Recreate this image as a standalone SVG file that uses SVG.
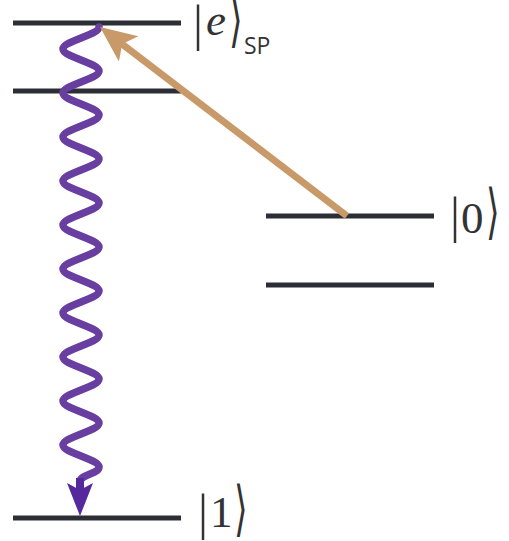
<svg xmlns="http://www.w3.org/2000/svg" width="509" height="541" viewBox="0 0 509 541">
<style>
.lvl{stroke:#2b2e34;stroke-width:5;fill:none}
.ch{font-family:"Liberation Serif","DejaVu Serif",serif;font-size:45px;fill:#333}
.bar{font-family:"Liberation Serif",serif;font-size:50px;fill:#333;text-anchor:middle}
.ang{font-family:"DejaVu Sans",sans-serif;font-weight:200;font-size:50px;fill:#333;text-anchor:middle}
.sub{font-family:"Open Sans","DejaVu Sans",sans-serif;font-size:23px;fill:#333}
</style>
<rect width="509" height="541" fill="#fff"/>
<g id="level-e1"><line class="lvl" x1="13" y1="23" x2="181" y2="23"/></g>
<g id="level-e2"><line class="lvl" x1="13" y1="91" x2="181" y2="91"/></g>
<g id="level-0a"><line class="lvl" x1="266" y1="216" x2="434" y2="216"/></g>
<g id="level-0b"><line class="lvl" x1="266" y1="285" x2="434" y2="285"/></g>
<g id="level-1"><line class="lvl" x1="13" y1="518" x2="181" y2="518"/></g>
<g id="connectors">
<path d="M 99 27 C 99 35, 63 41, 63 49 S 99 63, 99 71 S 63 85, 63 93 S 99 107, 99 115 S 63 129, 63 137 S 99 151, 99 159 S 63 173, 63 181 S 99 195, 99 203 S 63 217, 63 225 S 99 239, 99 247 S 63 261, 63 269 S 99 283, 99 291 S 63 305, 63 313 S 99 327, 99 335 S 63 349, 63 357 S 99 371, 99 379 S 63 393, 63 401 S 99 415, 99 423 S 63 437, 63 445 S 99 459, 99 467 C 99 474, 80 474, 80 482" fill="none" stroke="#693ea1" stroke-width="7.5" stroke-linecap="round"/>
<line x1="80" y1="478" x2="80" y2="490" stroke="#55299b" stroke-width="8"/>
<polygon points="80,516 67,483 80,490 93,483" fill="#55299b"/>
<line x1="347" y1="216" x2="122" y2="44" stroke="#c99a69" stroke-width="7"/>
<polygon points="100,27 138.3,36.2 122.2,44 118.9,61.6" fill="#c99a69"/>
</g>
<g id="label-e">
<text class="bar" x="198" y="40">|</text>
<text class="ch" x="206" y="35" font-style="italic">e</text>
<text class="ang" transform="translate(236,40) scale(0.7,1.2)">⟩</text>
<text class="sub" x="244" y="54">SP</text>
</g>
<g id="label-0">
<text class="bar" x="455" y="232">|</text>
<text class="ch" x="461" y="233">0</text>
<text class="ang" transform="translate(493,232) scale(0.7,1.2)">⟩</text>
</g>
<g id="label-1">
<text class="bar" x="203" y="529">|</text>
<text class="ch" x="210" y="527">1</text>
<text class="ang" transform="translate(241,529) scale(0.7,1.2)">⟩</text>
</g>
</svg>
